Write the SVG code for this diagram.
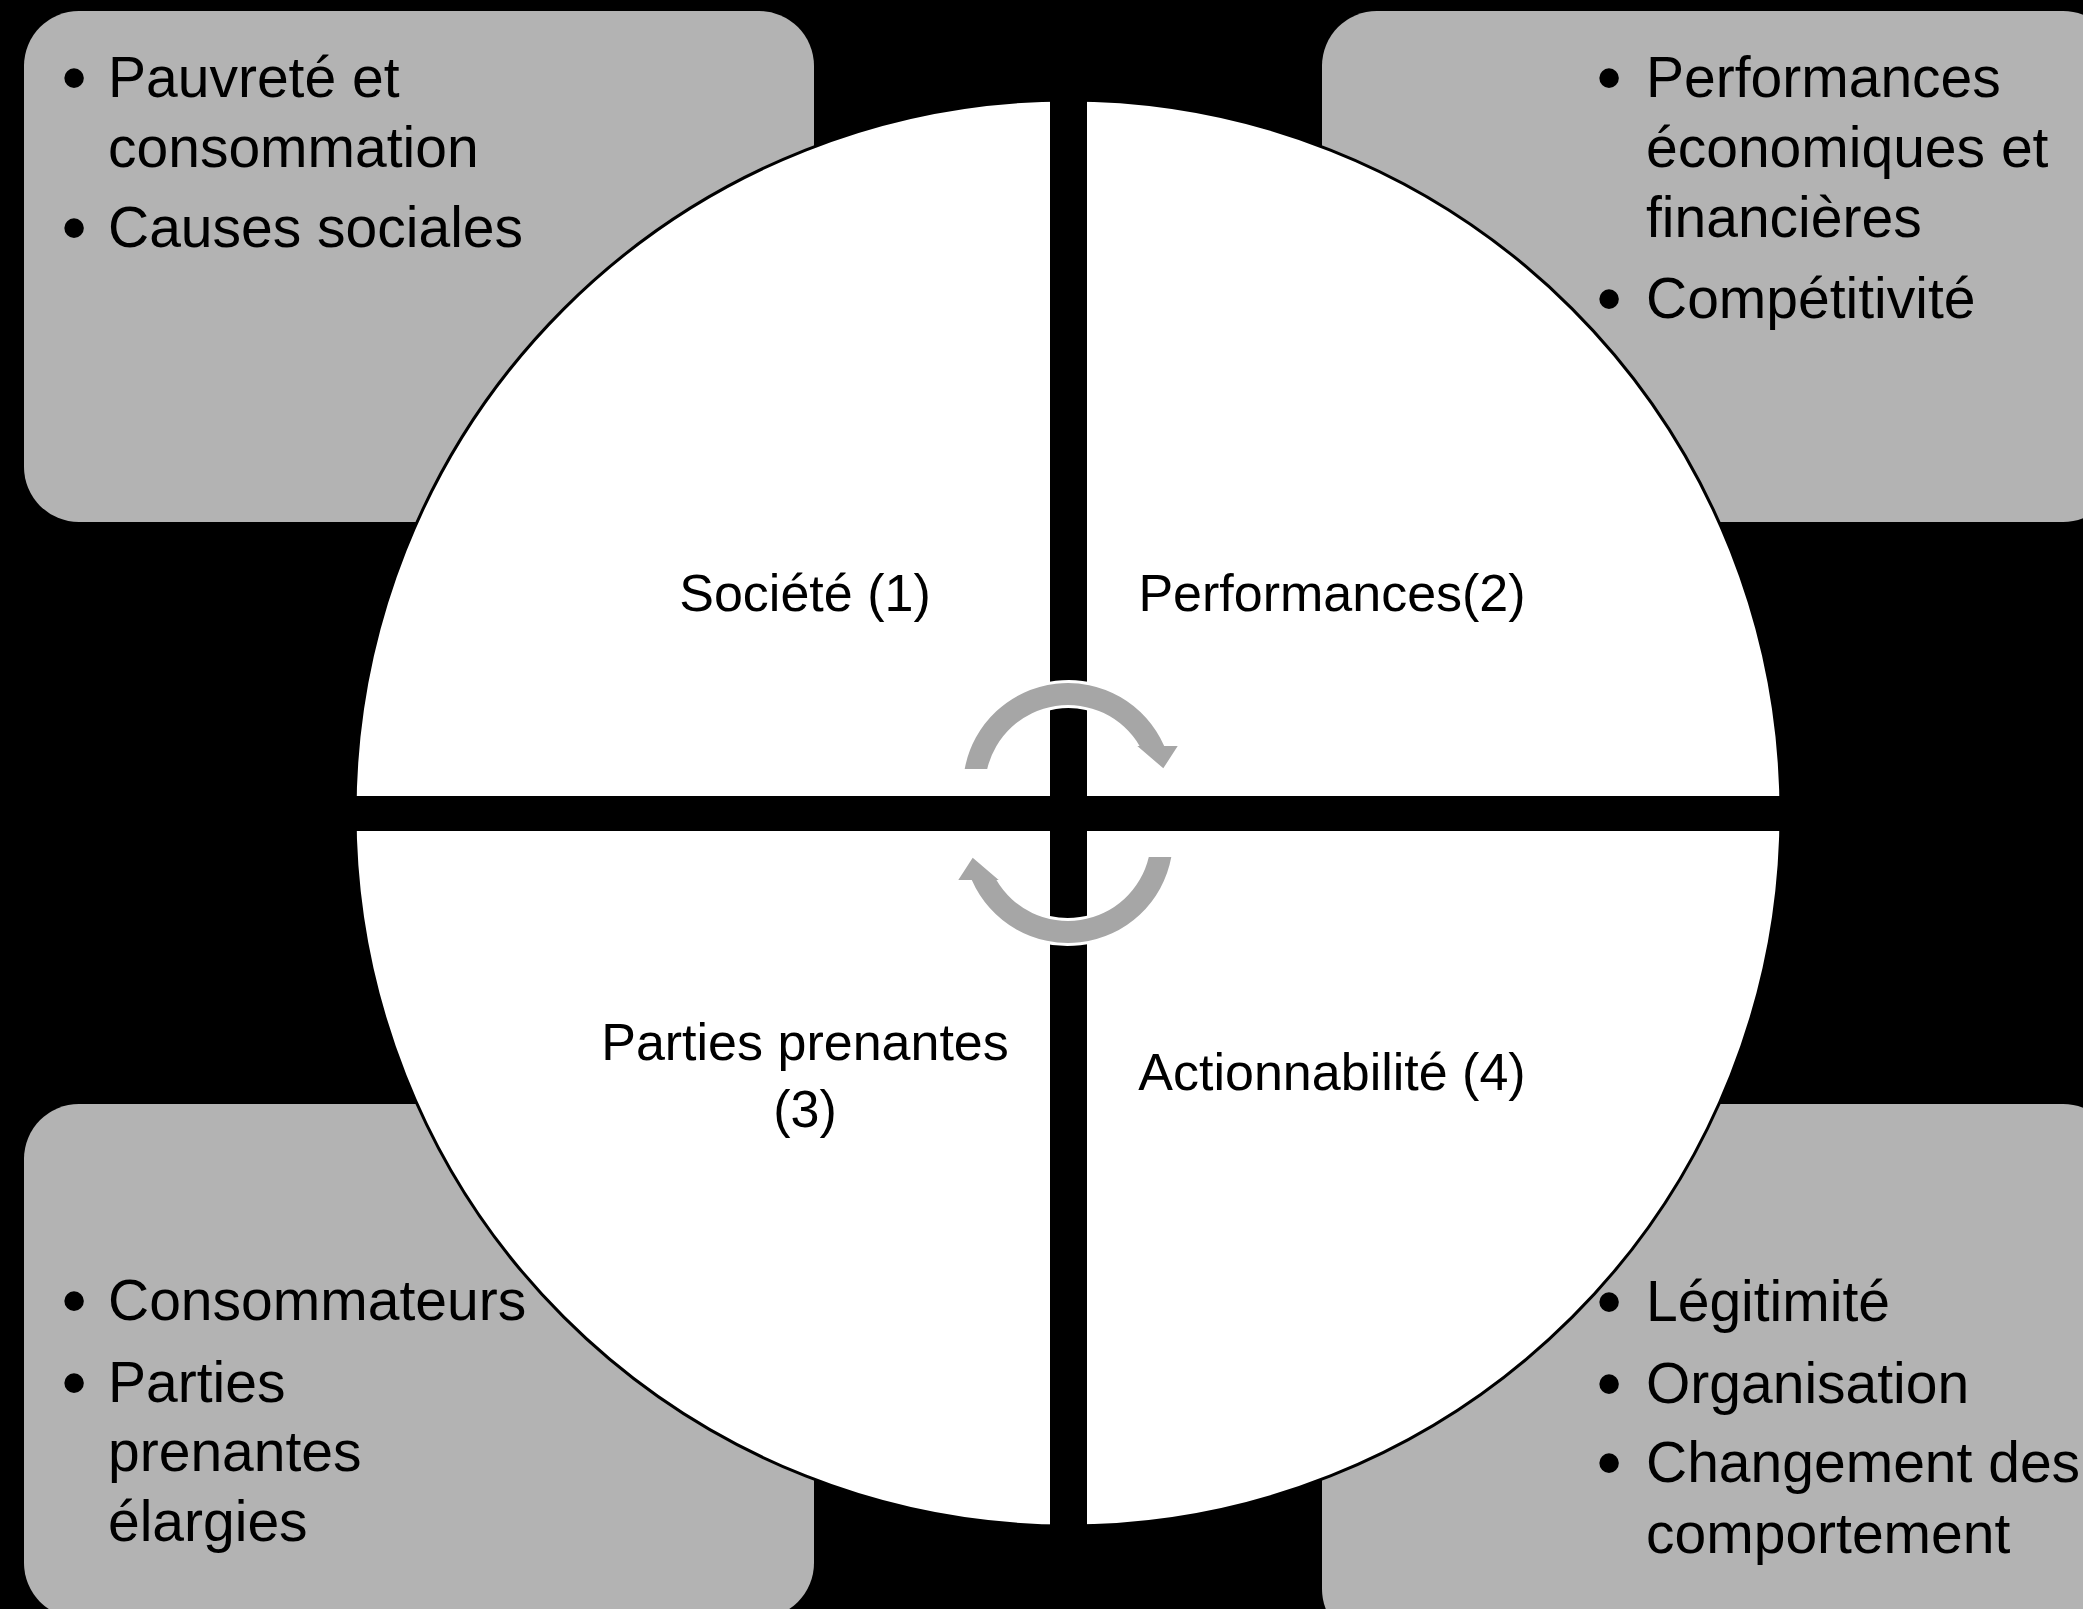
<svg xmlns="http://www.w3.org/2000/svg" width="2083" height="1609" viewBox="0 0 2083 1609">
<style>
.box{fill:#b3b3b3;}
.t{font-family:"Liberation Sans",Arial,sans-serif;font-size:57px;fill:#000;}
.blt{font-family:"Liberation Sans",Arial,sans-serif;font-size:72px;fill:#000;text-anchor:middle;}
.lbl{font-family:"Liberation Sans",Arial,sans-serif;font-size:52px;fill:#000;text-anchor:middle;}
.arrow{fill:#a6a6a6;stroke:#ffffff;stroke-width:6;paint-order:stroke;stroke-linejoin:miter;}
</style>
<rect x="0" y="0" width="2083" height="1609" fill="#000"/>
<g id="box-societe"><rect class="box" x="24" y="11" width="790" height="511" rx="55" ry="55"/></g>
<g id="box-performances"><rect class="box" x="1322" y="11" width="796" height="511" rx="55" ry="55"/></g>
<g id="box-parties"><rect class="box" x="24" y="1104" width="790" height="514" rx="55" ry="55"/></g>
<g id="box-actionnabilite"><rect class="box" x="1322" y="1104" width="796" height="540" rx="55" ry="55"/></g>
<g id="cycle">
<circle cx="1068" cy="813" r="713" fill="#fff" stroke="#000" stroke-width="3"/>
<rect x="1050" y="95" width="37" height="1436" fill="#000"/>
<rect x="350" y="796" width="1436" height="35" fill="#000"/>
</g>
<g id="connectors">
<path class="arrow" d="M 964.7 769 A 105 105 0 0 1 1164.2 746 L 1177.7 746 L 1163.3 768.3 L 1137.3 746 L 1139.6 746 A 83 83 0 0 0 987.2 769 Z"/>
<path class="arrow" d="M 1171.3 857 A 105 105 0 0 1 971.8 880 L 958.3 880 L 972.7 857.7 L 998.7 880 L 996.4 880 A 83 83 0 0 0 1148.8 857 Z"/>
</g>
<g id="text-societe">
<text class="blt" x="74" y="102">•</text>
<text class="t" x="108" y="97">Pauvreté et</text>
<text class="t" x="108" y="167">consommation</text>
<text class="blt" x="74" y="252">•</text>
<text class="t" x="108" y="247">Causes sociales</text>
</g>
<g id="text-performances">
<text class="blt" x="1609" y="102">•</text>
<text class="t" x="1646" y="97">Performances</text>
<text class="t" x="1646" y="167">économiques et</text>
<text class="t" x="1646" y="237">financières</text>
<text class="blt" x="1609" y="323">•</text>
<text class="t" x="1646" y="318">Compétitivité</text>
</g>
<g id="text-parties">
<text class="blt" x="74" y="1325">•</text>
<text class="t" x="108" y="1320">Consommateurs</text>
<text class="blt" x="74" y="1407">•</text>
<text class="t" x="108" y="1402">Parties</text>
<text class="t" x="108" y="1471">prenantes</text>
<text class="t" x="108" y="1541">élargies</text>
</g>
<g id="text-actionnabilite">
<text class="blt" x="1609" y="1326">•</text>
<text class="t" x="1646" y="1321">Légitimité</text>
<text class="blt" x="1609" y="1408">•</text>
<text class="t" x="1646" y="1403">Organisation</text>
<text class="blt" x="1609" y="1487">•</text>
<text class="t" x="1646" y="1482">Changement des</text>
<text class="t" x="1646" y="1553">comportement</text>
</g>
<g id="node-societe"><text class="lbl" x="805" y="611">Société (1)</text></g>
<g id="node-performances"><text class="lbl" x="1332" y="611">Performances(2)</text></g>
<g id="node-parties"><text class="lbl" x="805" y="1060">Parties prenantes</text><text class="lbl" x="805" y="1127">(3)</text></g>
<g id="node-actionnabilite"><text class="lbl" x="1332" y="1090">Actionnabilité (4)</text></g>
</svg>
